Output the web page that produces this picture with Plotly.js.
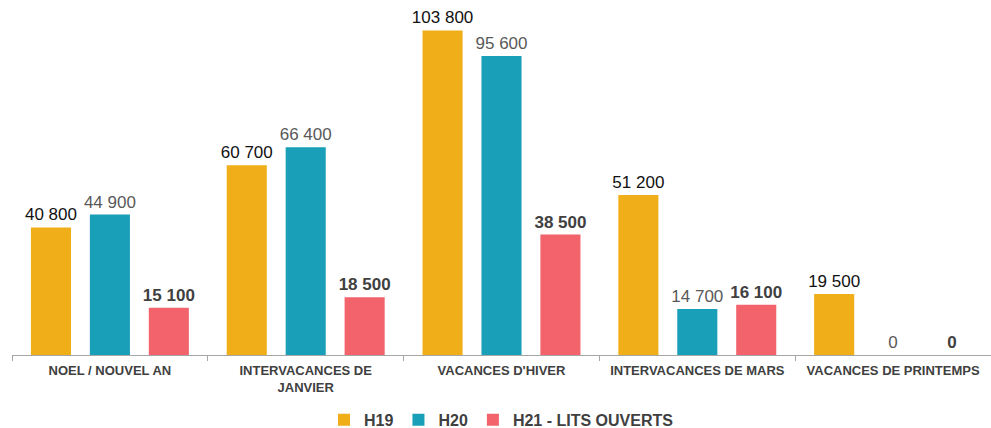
<!DOCTYPE html>
<html>
<head>
<meta charset="utf-8">
<script src="https://cdn.plot.ly/plotly-3.0.1.min.js"></script>
<style>html,body{margin:0;padding:0;background:#fff;}#chart{width:991px;height:428px;}</style>
</head>
<body>
<div id="chart"></div>
<script>
const categories = ["NOEL / NOUVEL AN", "INTERVACANCES DE<br>JANVIER", "VACANCES D'HIVER", "INTERVACANCES DE MARS", "VACANCES DE PRINTEMPS"];
const seriesNames = ["H19", "H20", "H21 - LITS OUVERTS"];
const h19 = [40800, 60700, 103800, 51200, 19500];
const h20 = [44900, 66400, 95600, 14700, 0];
const h21 = [15100, 18500, 38500, 16100, 0];

const font = "Arial, 'Liberation Sans', sans-serif";
function bar(name, y, color, textColor, bold) {
  return {
    type: "bar", name: name, x: categories, y: y,
    marker: {color: color},
    texttemplate: bold ? "<b>%{y:,.0f}</b>" : "%{y:,.0f}",
    textposition: "outside",
    constraintext: "none",
    cliponaxis: false,
    textfont: {family: font, size: 17, color: textColor},
    hoverinfo: "skip"
  };
}
const data = [
  bar(seriesNames[0], h19, "#F0AE19", "#111111", false),
  bar(seriesNames[1], h20, "#1A9FB8", "#595959", false),
  bar(seriesNames[2], h21, "#F2636B", "#404040", true)
];
const layout = {
  width: 991, height: 428,
  margin: {l: 12, r: 0, t: 11, b: 73, autoexpand: false},
  paper_bgcolor: "#fff", plot_bgcolor: "#fff",
  separators: ", ",
  barmode: "group",
  bargap: 0.097,
  bargroupgap: 0.32,
  showlegend: true,
  legend: {
    orientation: "h", x: 0.5, xanchor: "center",
    yref: "container", y: 0.019, yanchor: "middle",
    font: {family: font, size: 16, color: "#404040", weight: "bold"},
    itemwidth: 30, traceorder: "normal"
  },
  xaxis: {
    type: "category", automargin: false,
    showline: true, linecolor: "#A6A6A6", linewidth: 1,
    ticks: "outside", tickson: "boundaries", ticklen: 5, tickcolor: "#A6A6A6",
    ticklabelstandoff: 3,
    tickfont: {family: font, size: 13, color: "#404040", weight: "bold"},
    showgrid: false, zeroline: false, fixedrange: true
  },
  yaxis: {
    range: [0, 110000], visible: false, showgrid: false, zeroline: false, fixedrange: true
  }
};
Plotly.newPlot("chart", data, layout, {displayModeBar: false, staticPlot: true});
</script>
</body>
</html>
